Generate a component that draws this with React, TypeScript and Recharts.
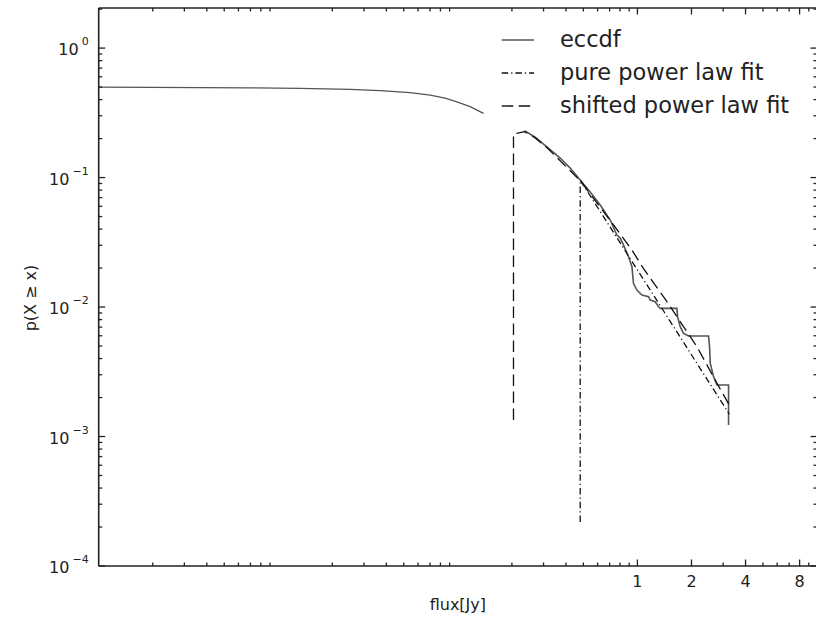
import React from 'react';
import { LineChart, Line, XAxis, YAxis, Legend } from 'recharts';

// ---------- data ----------
const eccdfLowX = [0.001, 0.00193, 0.00367, 0.00697, 0.01322, 0.0251, 0.0369, 0.0542, 0.0702, 0.0849, 0.0987, 0.1171, 0.1389];
const eccdfLowY = [0.4998, 0.4981, 0.4955, 0.4929, 0.4884, 0.4798, 0.4697, 0.4532, 0.4336, 0.4111, 0.3848, 0.3534, 0.3131];

const eccdfHighX = [0.235, 0.2696, 0.3131, 0.3715, 0.4222, 0.4801, 0.5458, 0.6205, 0.7056, 0.7687, 0.8022, 0.8369, 0.892, 0.932, 0.9512, 0.9936, 1.0595, 1.1532, 1.1785, 1.2567, 1.311, 1.34, 1.66, 1.673, 1.732, 1.806, 1.926, 2.489, 2.522, 2.545, 2.655, 2.773, 3.217, 3.217, 3.217];
const eccdfHighY = [0.2298, 0.2055, 0.1729, 0.1415, 0.1184, 0.0956, 0.0773, 0.0613, 0.047, 0.036, 0.0341, 0.0301, 0.0245, 0.0205, 0.0152, 0.01353, 0.01238, 0.01201, 0.01132, 0.01099, 0.01005, 0.00977, 0.00977, 0.00842, 0.00705, 0.00626, 0.00597, 0.00597, 0.00494, 0.00367, 0.0029, 0.0025, 0.0025, 0.0018, 0.00123];

const pureFitX = [0.4801, 0.4801, 3.246];
const pureFitY = [0.000219, 0.0956, 0.00149];

const shiftedFitX = [0.2041, 0.2041, 0.235, 0.2696, 0.3131, 0.4801, 0.7056, 0.932, 1.077, 1.46, 2.145, 2.773, 3.246];
const shiftedFitY = [0.00134, 0.2168, 0.2262, 0.2025, 0.1705, 0.0945, 0.0466, 0.02755, 0.02, 0.01099, 0.00494, 0.00258, 0.00175];

const seriesNames = ['eccdf', 'pure power law fit', 'shifted power law fit'];

const xMajorTicks = [1, 2, 4, 8];
const xTickLabels = ['1', '2', '4', '8'];
const xMinorTicks = [
  0.002, 0.003, 0.004, 0.005, 0.006, 0.007, 0.008, 0.009,
  0.02, 0.03, 0.04, 0.05, 0.06, 0.07, 0.08, 0.09,
  0.2, 0.3, 0.4, 0.5, 0.6, 0.7, 0.8, 0.9,
  3, 5, 6, 7, 9,
];
const yMajorTicks = [1, 0.1, 0.01, 0.001, 0.0001];
const yTickExponents = ['0', '\u22121', '\u22122', '\u22123', '\u22124'];
const yMinorTicks = [
  0.0002, 0.0003, 0.0004, 0.0005, 0.0006, 0.0007, 0.0008, 0.0009,
  0.002, 0.003, 0.004, 0.005, 0.006, 0.007, 0.008, 0.009,
  0.02, 0.03, 0.04, 0.05, 0.06, 0.07, 0.08, 0.09,
  0.2, 0.3, 0.4, 0.5, 0.6, 0.7, 0.8, 0.9,
  2,
];

const xDomain = [0.001, 10];
const yDomain = [0.0001, 2.04];

// ---------- styling ----------
const FONT = '"DejaVu Sans", Verdana, sans-serif';
const INK = '#222';
const ECCDF_COLOR = '#555';
const FIT_COLOR = '#111';
const PURE_DASH = '6.5 3 1.2 3';
const SHIFT_DASH = '11.5 5.5';
const MAJOR_LEN = 6.5;
const MINOR_LEN = 3.5;

const zip = (xs: number[], ys: number[]) => xs.map((x, i) => ({ x, y: ys[i] }));

const eccdfLow = zip(eccdfLowX, eccdfLowY);
const eccdfHigh = zip(eccdfHighX, eccdfHighY);
const pureFit = zip(pureFitX, pureFitY);
const shiftedFit = zip(shiftedFitX, shiftedFitY);

const legendStyles = [
  { color: ECCDF_COLOR, dash: undefined as string | undefined },
  { color: FIT_COLOR, dash: PURE_DASH },
  { color: FIT_COLOR, dash: SHIFT_DASH },
];

function BottomTick(props: any) {
  const { x, y, payload } = props;
  const idx = xMajorTicks.indexOf(payload.value);
  const major = idx >= 0;
  return (
    <g>
      <line x1={x} x2={x} y1={y} y2={y - (major ? MAJOR_LEN : MINOR_LEN)} stroke={INK} strokeWidth={1.3} />
      {major && (
        <text x={x} y={y + 21} textAnchor="middle" fontSize={16} fontFamily={FONT} fill={INK}>
          {xTickLabels[idx]}
        </text>
      )}
    </g>
  );
}

function TopTick(props: any) {
  const { x, y, payload } = props;
  const major = xMajorTicks.indexOf(payload.value) >= 0;
  return <line x1={x} x2={x} y1={y} y2={y + (major ? MAJOR_LEN : MINOR_LEN)} stroke={INK} strokeWidth={1.3} />;
}

function LeftTick(props: any) {
  const { x, y, payload } = props;
  const idx = yMajorTicks.indexOf(payload.value);
  const major = idx >= 0;
  return (
    <g>
      <line x1={x} x2={x + (major ? MAJOR_LEN : MINOR_LEN)} y1={y} y2={y} stroke={INK} strokeWidth={1.3} />
      {major && (
        <text x={x - 10} y={y + 7} textAnchor="end" fontFamily={FONT} fill={INK}>
          <tspan fontSize={16}>10</tspan>
          <tspan fontSize={11} dx={3} dy={-10}>{yTickExponents[idx]}</tspan>
        </text>
      )}
    </g>
  );
}

function RightTick(props: any) {
  const { x, y, payload } = props;
  const major = yMajorTicks.indexOf(payload.value) >= 0;
  return <line x1={x} x2={x - (major ? MAJOR_LEN : MINOR_LEN)} y1={y} y2={y} stroke={INK} strokeWidth={1.3} />;
}

function XTitle(props: any) {
  const vb = props.viewBox || { x: 0, y: 0, width: 0 };
  return (
    <text x={vb.x + vb.width / 2} y={vb.y + 44} textAnchor="middle" fontSize={16} fontFamily={FONT} fill={INK}>
      flux[Jy]
    </text>
  );
}

function YTitle(props: any) {
  const vb = props.viewBox || { x: 0, y: 0, height: 0 };
  const cy = vb.y + vb.height / 2 + 11;
  return (
    <text transform={`translate(36, ${cy}) rotate(-90)`} textAnchor="middle" fontSize={16} fontFamily={FONT} fill={INK}>
      p(X {'\u2265'} x)
    </text>
  );
}

function LegendBox() {
  return (
    <svg width={330} height={125} style={{ display: 'block' }}>
      {seriesNames.map((name, i) => {
        const ly = 40 + i * 33;
        const s = legendStyles[i];
        return (
          <g key={name}>
            <line x1={21.7} x2={54} y1={ly} y2={ly} stroke={s.color} strokeWidth={1.4} strokeDasharray={s.dash} />
            <text x={80} y={ly + 7} fontSize={22.5} fontFamily={FONT} fill={INK}>
              {name}
            </text>
          </g>
        );
      })}
    </svg>
  );
}

export default function App() {
  const allXTicks = [...xMajorTicks, ...xMinorTicks];
  const allYTicks = [...yMajorTicks, ...yMinorTicks];
  return (
    <div
      style={{
        position: 'fixed',
        left: 0,
        top: 0,
        width: 816,
        height: 620,
        overflow: 'hidden',
        background: '#fff',
      }}
    >
      <LineChart width={820} height={620} margin={{ top: 7, right: 2, bottom: 0, left: 0 }}>
        <XAxis
          xAxisId="main"
          dataKey="x"
          type="number"
          scale="log"
          domain={xDomain}
          allowDataOverflow
          ticks={allXTicks}
          interval={0}
          tick={<BottomTick />}
          tickLine={false}
          tickSize={0}
          tickMargin={0}
          axisLine={{ stroke: INK, strokeWidth: 1.6 }}
          height={54}
          label={<XTitle />}
        />
        <XAxis
          xAxisId="top"
          dataKey="x"
          orientation="top"
          type="number"
          scale="log"
          domain={xDomain}
          allowDataOverflow
          ticks={allXTicks}
          interval={0}
          tick={<TopTick />}
          tickLine={false}
          tickSize={0}
          tickMargin={0}
          axisLine={{ stroke: INK, strokeWidth: 1.6 }}
          height={1}
        />
        <YAxis
          yAxisId="main"
          type="number"
          scale="log"
          domain={yDomain}
          allowDataOverflow
          ticks={allYTicks}
          interval={0}
          tick={<LeftTick />}
          tickLine={false}
          tickSize={0}
          tickMargin={0}
          axisLine={{ stroke: INK, strokeWidth: 1.6 }}
          width={98.7}
          label={<YTitle />}
        />
        <YAxis
          yAxisId="right"
          orientation="right"
          type="number"
          scale="log"
          domain={yDomain}
          allowDataOverflow
          ticks={allYTicks}
          interval={0}
          tick={<RightTick />}
          tickLine={false}
          tickSize={0}
          tickMargin={0}
          axisLine={{ stroke: INK, strokeWidth: 1.6 }}
          width={1}
        />
        <Line
          xAxisId="top"
          yAxisId="right"
          data={pureFit}
          dataKey="y"
          name="frame"
          type="linear"
          stroke="none"
          strokeWidth={0}
          dot={false}
          activeDot={false}
          isAnimationActive={false}
          legendType="none"
        />
        <Line
          xAxisId="main"
          yAxisId="main"
          data={eccdfLow}
          dataKey="y"
          name={seriesNames[0]}
          type="linear"
          stroke={ECCDF_COLOR}
          strokeWidth={1.3}
          dot={false}
          activeDot={false}
          isAnimationActive={false}
        />
        <Line
          xAxisId="main"
          yAxisId="main"
          data={eccdfHigh}
          dataKey="y"
          name={seriesNames[0] + ' tail'}
          type="linear"
          stroke={ECCDF_COLOR}
          strokeWidth={1.6}
          dot={false}
          activeDot={false}
          isAnimationActive={false}
          legendType="none"
        />
        <Line
          xAxisId="main"
          yAxisId="main"
          data={pureFit}
          dataKey="y"
          name={seriesNames[1]}
          type="linear"
          stroke={FIT_COLOR}
          strokeWidth={1.3}
          strokeDasharray={PURE_DASH}
          dot={false}
          activeDot={false}
          isAnimationActive={false}
        />
        <Line
          xAxisId="main"
          yAxisId="main"
          data={shiftedFit}
          dataKey="y"
          name={seriesNames[2]}
          type="linear"
          stroke={FIT_COLOR}
          strokeWidth={1.3}
          strokeDasharray={SHIFT_DASH}
          dot={false}
          activeDot={false}
          isAnimationActive={false}
        />
        <Legend
          layout="vertical"
          align="center"
          verticalAlign="middle"
          content={<LegendBox />}
          wrapperStyle={{ left: 480, top: 0, width: 330, height: 125 }}
        />
      </LineChart>
    </div>
  );
}
